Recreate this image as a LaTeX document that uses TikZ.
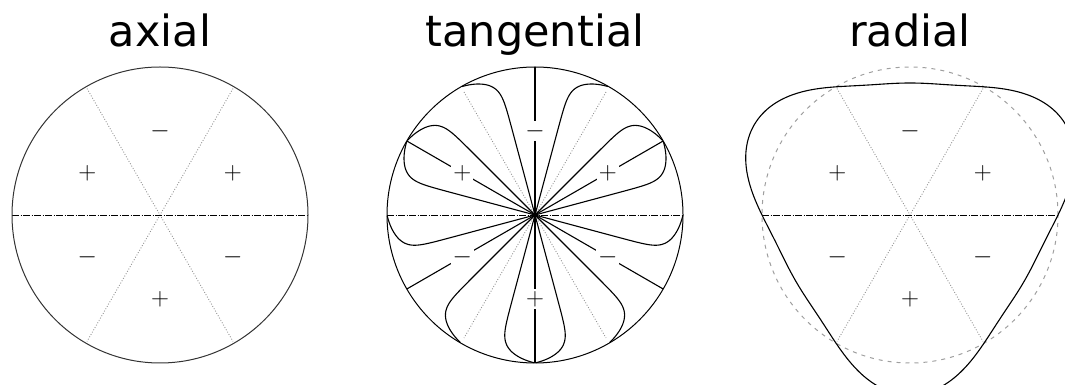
\documentclass[tikz,border=0pt]{standalone}
\usepackage{fontspec}
\newfontfamily\titlefont{DejaVu Sans}

\begin{document}
\begin{tikzpicture}[
    x=1pt, y=1pt,
    title/.style  = {font=\titlefont\fontsize{43}{50}\selectfont, anchor=base},
    sign/.style   = {font=\fontsize{25}{25}\selectfont, fill=white, inner sep=2pt},
    rim/.style    = {line width=1pt, black!80},
    sector/.style = {gray!85, line width=0.9pt, dash pattern=on 0.9pt off 1.8pt},
    axis/.style   = {line width=0.9pt, dash pattern=on 7pt off 1.5pt on 1pt off 1.5pt},
    ray/.style    = {line width=1.1pt},
    flow/.style   = {line width=1.1pt},
    rest/.style   = {gray!75, line width=1pt, dash pattern=on 4pt off 5pt},
    bulge/.style  = {line width=1.1pt}
]
\useasboundingbox (0,0) rectangle (1065,385);
\clip (0,0) rectangle (1065,385);

% Axial mode
\begin{scope}[shift={(160,170)}]
\node[title] (tax) at (0,168) {axial};
\draw[sector] (60:146) -- (240:146);
\draw[sector] (120:146) -- (300:146);
\draw[axis] (180:148) -- (0:148);
\draw[rim] (0,0) circle (148pt);
\foreach \a/\s [count=\i] in {30/+,90/-,150/+,210/-,270/+,330/-}
    \node[sign] (ax\i) at (\a:84) {$\s$};
\end{scope}

% Tangential mode
\begin{scope}[shift={(535,170)}]
\node[title] (tan) at (0,168) {tangential};
\draw[sector] (60:142) -- (240:142);
\draw[sector] (120:142) -- (300:142);
\draw[axis] (180:148) -- (0:148);
\foreach \a in {30,90,...,330}
    \draw[ray] (0,0) -- (\a:148);
\foreach \a in {15,45,...,345}
    \draw[flow] (0,0) -- plot[domain=0.05:1, samples=160, variable=\t]
        ({\a+21.21*cos(3*\a)*\t^16}:{148*\t});
\draw[rim, black] (0,0) circle (148pt);
\foreach \a/\s [count=\i] in {30/+,90/-,150/+,210/-,270/+,330/-}
    \node[sign] (tn\i) at (\a:84) {$\s$};
\end{scope}

% Radial mode
\begin{scope}[shift={(910,170)}]
\node[title] (rad) at (0,168) {radial};
\draw[sector] (60:146) -- (240:146);
\draw[sector] (120:146) -- (300:146);
\draw[axis] (180:148) -- (0:148);
\draw[rest] (0,0) circle (148pt);
\draw[bulge] plot[domain=0:360, samples=241, smooth, variable=\a]
    (\a:{148+24*sin(3*\a)+8*sin(3*\a)*sin(3*\a)}) -- cycle;
\foreach \a/\s [count=\i] in {30/+,90/-,150/+,210/-,270/+,330/-}
    \node[sign] (rd\i) at (\a:84) {$\s$};
\end{scope}
\end{tikzpicture}
\end{document}
